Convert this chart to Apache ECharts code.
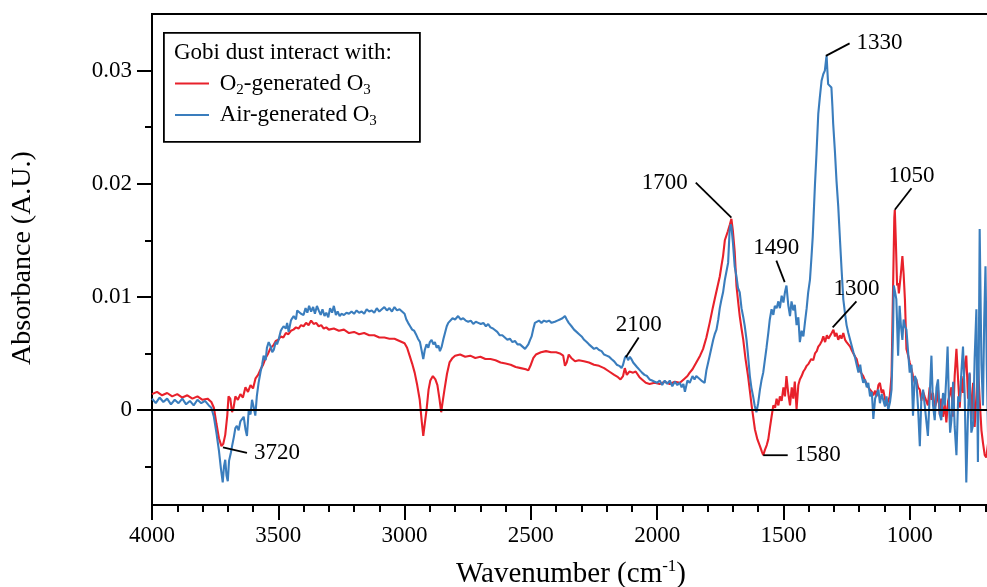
<!DOCTYPE html>
<html>
<head>
<meta charset="utf-8">
<script src="https://cdn.jsdelivr.net/npm/echarts@6/dist/echarts.min.js"></script>
<style>
html,body{margin:0;padding:0;background:#fff;}
#chart{width:987px;height:587px;}
</style>
</head>
<body>
<div id="chart"></div>
<script>
// ---- data (wavenumber cm-1, absorbance A.U.) ----
const seriesNames = ['O2-generated O3', 'Air-generated O3'];
const xTickValues = [1000, 1500, 2000, 2500, 3000, 3500, 4000];
const yMajorTicks = [0, 0.01, 0.02, 0.03];
const yMinorTicks = [-0.005, 0.005, 0.015, 0.025];

const o2Spectrum = [
[4000,0.0014],[3980,0.0016],[3960,0.0013],[3940,0.0015],[3920,0.0012],[3900,0.0014],[3880,0.0011],[3860,0.0013],
[3840,0.0010],[3820,0.0012],[3800,0.0009],[3780,0.0010],[3765,0.0007],[3755,0.0002],[3745,-0.0012],[3735,-0.0025],
[3725,-0.0032],[3718,-0.0030],[3710,-0.0022],[3702,-0.0005],[3697,0.0012],[3690,0.0010],[3683,-0.0002],[3677,0.0002],
[3670,0.0012],[3660,0.0009],[3650,0.0014],[3640,0.0011],[3630,0.0020],[3620,0.0016],[3610,0.0022],[3600,0.0019],
[3590,0.0028],[3580,0.0031],[3570,0.0036],[3560,0.0040],[3550,0.0046],[3540,0.0050],[3530,0.0055],[3520,0.0057],
[3510,0.0061],[3500,0.0062],[3490,0.0065],[3480,0.0064],[3470,0.0068],[3460,0.0067],[3450,0.0070],[3440,0.0071],
[3430,0.0073],[3420,0.0072],[3410,0.0075],[3400,0.0074],[3390,0.0077],[3380,0.0075],[3370,0.0079],[3360,0.0076],
[3350,0.0077],[3340,0.0074],[3330,0.0075],[3320,0.0072],[3310,0.0073],[3300,0.0071],[3280,0.0072],[3260,0.0070],
[3240,0.0071],[3220,0.0068],[3200,0.0069],[3180,0.0067],[3160,0.0068],[3140,0.0066],[3120,0.0066],[3100,0.0064],
[3080,0.0064],[3060,0.0063],[3040,0.0063],[3020,0.0061],[3000,0.0059],[2990,0.0055],[2980,0.0048],[2970,0.0041],
[2960,0.0033],[2950,0.0022],[2940,0.0009],[2932,-0.0010],[2926,-0.0023],[2920,-0.0012],[2913,0.0000],[2905,0.0018],
[2898,0.0026],[2888,0.0030],[2878,0.0027],[2870,0.0022],[2862,0.0010],[2855,-0.0002],[2850,0.0006],[2842,0.0018],
[2832,0.0032],[2822,0.0042],[2810,0.0046],[2800,0.0048],[2780,0.0049],[2760,0.0047],[2740,0.0048],[2720,0.0046],
[2700,0.0047],[2680,0.0045],[2660,0.0045],[2640,0.0044],[2620,0.0042],[2600,0.0041],[2580,0.0040],[2560,0.0038],
[2540,0.0037],[2520,0.0036],[2510,0.0035],[2500,0.0040],[2490,0.0046],[2480,0.0049],[2460,0.0051],[2440,0.0052],
[2420,0.0051],[2400,0.0051],[2385,0.0050],[2372,0.0048],[2365,0.0039],[2358,0.0042],[2350,0.0049],[2340,0.0046],
[2325,0.0043],[2310,0.0044],[2290,0.0043],[2270,0.0042],[2250,0.0040],[2230,0.0039],[2210,0.0037],[2190,0.0034],
[2170,0.0031],[2155,0.0029],[2145,0.0027],[2135,0.0030],[2128,0.0037],[2120,0.0031],[2110,0.0034],[2095,0.0033],
[2085,0.0034],[2070,0.0029],[2060,0.0027],[2045,0.0024],[2030,0.0023],[2010,0.0024],[1990,0.0023],[1970,0.0025],
[1950,0.0023],[1930,0.0025],[1910,0.0024],[1895,0.0027],[1880,0.0030],[1871,0.0033],[1860,0.0036],[1845,0.0042],
[1830,0.0048],[1818,0.0054],[1805,0.0064],[1792,0.0077],[1780,0.0090],[1772,0.0098],[1762,0.0108],[1752,0.0118],
[1745,0.0128],[1739,0.0136],[1732,0.0150],[1720,0.0158],[1712,0.0164],[1706,0.0169],[1700,0.0158],[1693,0.0140],
[1686,0.0110],[1679,0.0095],[1673,0.0083],[1666,0.0072],[1659,0.0062],[1650,0.0045],[1640,0.0030],[1633,0.0017],
[1626,0.0004],[1613,-0.0017],[1603,-0.0026],[1593,-0.0032],[1585,-0.0037],[1580,-0.0040],[1573,-0.0035],[1566,-0.0031],
[1560,-0.0026],[1553,-0.0015],[1547,-0.0006],[1540,0.0004],[1533,0.0002],[1527,0.0010],[1520,0.0004],[1514,0.0012],
[1507,0.0008],[1500,0.0020],[1494,0.0012],[1488,0.0030],[1481,0.0015],[1474,0.0004],[1467,0.0020],[1461,0.0010],
[1455,0.0025],[1448,0.0001],[1441,0.0022],[1435,0.0027],[1428,0.0030],[1421,0.0034],[1415,0.0036],[1408,0.0039],
[1400,0.0041],[1390,0.0045],[1382,0.0044],[1375,0.0050],[1368,0.0052],[1362,0.0056],[1355,0.0058],[1348,0.0061],
[1342,0.0065],[1335,0.0060],[1328,0.0066],[1322,0.0063],[1316,0.0062],[1309,0.0068],[1302,0.0071],[1296,0.0065],
[1290,0.0068],[1283,0.0062],[1276,0.0066],[1270,0.0063],[1263,0.0068],[1256,0.0062],[1250,0.0060],[1243,0.0058],
[1236,0.0056],[1230,0.0053],[1223,0.0050],[1216,0.0047],[1210,0.0045],[1203,0.0038],[1196,0.0034],[1190,0.0032],
[1184,0.0030],[1177,0.0026],[1170,0.0025],[1164,0.0020],[1157,0.0018],[1150,0.0016],[1144,0.0013],[1137,0.0017],
[1131,0.0012],[1124,0.0022],[1118,0.0024],[1111,0.0015],[1105,0.0018],[1098,0.0010],[1092,0.0004],[1085,0.0008],
[1079,0.0012],[1072,0.0030],[1066,0.0107],[1061,0.0170],[1059,0.0177],[1055,0.0150],[1050,0.0110],[1046,0.0112],
[1043,0.0103],[1036,0.0118],[1029,0.0136],[1024,0.0120],[1019,0.0098],[1013,0.0054],[1006,0.0048],[1000,0.0042],
[993,0.0036],[987,0.0030],[980,0.0024],[974,0.0027],[967,0.0020],[960,0.0018],[954,0.0008],[947,0.0016],
[941,0.0012],[934,0.0012],[928,0.0004],[921,0.0020],[914,0.0009],[908,0.0015],[901,0.0002],[894,0.0007],
[888,0.0018],[881,-0.0004],[875,0.0010],[868,-0.0006],[861,0.0006],[855,-0.0011],[848,0.0008],[841,0.0014],
[835,0.0020],[828,-0.0006],[822,0.0030],[815,0.0054],[808,0.0025],[802,0.0002],[795,0.0030],[789,0.0015],
[782,0.0040],[776,0.0048],[769,0.0010],[763,0.0032],[756,-0.0008],[749,0.0024],[743,-0.0015],[736,0.0012],
[730,0.0040],[723,0.0009],[716,-0.0018],[710,-0.0029],[703,-0.0040],[697,-0.0042],[690,-0.0030]
];

const airSpectrum = [
[4000,0.0010],[3985,0.0006],[3970,0.0011],[3955,0.0007],[3940,0.0010],[3925,0.0005],[3910,0.0009],[3895,0.0006],
[3880,0.0010],[3865,0.0005],[3850,0.0008],[3835,0.0004],[3820,0.0009],[3805,0.0006],[3790,0.0008],[3775,0.0004],
[3765,0.0002],[3755,-0.0006],[3745,-0.0020],[3735,-0.0036],[3727,-0.0052],[3720,-0.0064],[3715,-0.0050],[3710,-0.0044],
[3705,-0.0058],[3700,-0.0063],[3695,-0.0045],[3688,-0.0038],[3683,-0.0032],[3676,-0.0024],[3670,-0.0016],[3664,-0.0014],
[3657,-0.0018],[3650,-0.0010],[3644,-0.0011],[3637,-0.0006],[3630,-0.0017],[3624,-0.0023],[3617,0.0000],[3610,-0.0004],
[3604,0.0009],[3597,0.0002],[3591,-0.0005],[3585,0.0012],[3578,0.0024],[3570,0.0034],[3564,0.0040],[3558,0.0048],
[3550,0.0044],[3545,0.0055],[3538,0.0060],[3530,0.0056],[3524,0.0051],[3518,0.0053],[3510,0.0060],[3505,0.0058],
[3499,0.0062],[3490,0.0070],[3485,0.0072],[3479,0.0074],[3470,0.0072],[3465,0.0077],[3459,0.0069],[3450,0.0079],
[3445,0.0081],[3439,0.0083],[3430,0.0080],[3425,0.0088],[3419,0.0089],[3410,0.0085],[3400,0.0084],[3392,0.0090],
[3385,0.0086],[3378,0.0092],[3370,0.0087],[3362,0.0091],[3355,0.0085],[3347,0.0092],[3340,0.0088],[3332,0.0084],
[3325,0.0089],[3317,0.0083],[3310,0.0086],[3302,0.0082],[3295,0.0090],[3287,0.0086],[3280,0.0092],[3272,0.0084],
[3265,0.0087],[3257,0.0083],[3250,0.0085],[3240,0.0084],[3230,0.0086],[3220,0.0085],[3210,0.0087],[3200,0.0085],
[3190,0.0088],[3180,0.0086],[3170,0.0087],[3160,0.0085],[3150,0.0089],[3140,0.0087],[3130,0.0088],[3120,0.0086],
[3110,0.0090],[3100,0.0087],[3090,0.0089],[3080,0.0091],[3070,0.0088],[3060,0.0090],[3050,0.0087],[3040,0.0091],
[3030,0.0088],[3020,0.0089],[3010,0.0087],[3000,0.0085],[2993,0.0080],[2986,0.0077],[2978,0.0074],[2970,0.0071],
[2962,0.0070],[2955,0.0067],[2947,0.0063],[2939,0.0060],[2932,0.0052],[2926,0.0045],[2920,0.0053],[2913,0.0058],
[2906,0.0055],[2900,0.0060],[2893,0.0062],[2886,0.0058],[2880,0.0060],[2873,0.0055],[2866,0.0057],[2860,0.0052],
[2853,0.0056],[2846,0.0063],[2840,0.0068],[2833,0.0074],[2827,0.0077],[2821,0.0078],[2810,0.0081],[2800,0.0080],
[2788,0.0083],[2778,0.0080],[2768,0.0081],[2758,0.0079],[2748,0.0078],[2738,0.0079],[2728,0.0076],[2718,0.0078],
[2708,0.0077],[2698,0.0076],[2688,0.0077],[2678,0.0074],[2669,0.0076],[2660,0.0073],[2650,0.0072],[2643,0.0071],
[2633,0.0069],[2623,0.0066],[2613,0.0066],[2603,0.0064],[2593,0.0062],[2583,0.0063],[2573,0.0060],[2563,0.0061],
[2553,0.0058],[2543,0.0058],[2533,0.0056],[2523,0.0054],[2517,0.0055],[2510,0.0058],[2503,0.0062],[2497,0.0065],
[2490,0.0072],[2484,0.0077],[2478,0.0078],[2468,0.0079],[2458,0.0077],[2448,0.0079],[2438,0.0078],[2428,0.0079],
[2418,0.0077],[2405,0.0078],[2395,0.0079],[2385,0.0080],[2375,0.0081],[2365,0.0083],[2358,0.0080],[2350,0.0077],
[2339,0.0074],[2329,0.0071],[2319,0.0069],[2309,0.0067],[2299,0.0065],[2289,0.0062],[2279,0.0060],[2270,0.0058],
[2260,0.0056],[2250,0.0054],[2240,0.0055],[2230,0.0053],[2220,0.0052],[2210,0.0049],[2200,0.0048],[2190,0.0047],
[2181,0.0045],[2170,0.0043],[2160,0.0040],[2150,0.0039],[2141,0.0037],[2135,0.0040],[2128,0.0046],[2122,0.0048],
[2115,0.0044],[2108,0.0047],[2102,0.0045],[2095,0.0042],[2088,0.0041],[2080,0.0038],[2075,0.0037],[2068,0.0035],
[2060,0.0033],[2050,0.0031],[2040,0.0030],[2030,0.0027],[2020,0.0026],[2010,0.0025],[2000,0.0024],[1990,0.0026],
[1980,0.0022],[1970,0.0026],[1960,0.0023],[1950,0.0026],[1940,0.0021],[1930,0.0025],[1920,0.0022],[1910,0.0024],
[1903,0.0020],[1896,0.0023],[1890,0.0016],[1880,0.0026],[1871,0.0024],[1860,0.0030],[1852,0.0027],[1845,0.0030],
[1835,0.0028],[1825,0.0026],[1818,0.0025],[1812,0.0024],[1805,0.0035],[1798,0.0042],[1792,0.0048],[1785,0.0055],
[1778,0.0062],[1772,0.0067],[1765,0.0071],[1758,0.0080],[1752,0.0090],[1746,0.0097],[1739,0.0104],[1732,0.0115],
[1726,0.0122],[1719,0.0130],[1713,0.0159],[1709,0.0164],[1706,0.0162],[1700,0.0148],[1693,0.0127],[1686,0.0118],
[1680,0.0108],[1673,0.0104],[1666,0.0090],[1659,0.0082],[1653,0.0074],[1646,0.0062],[1640,0.0048],[1633,0.0030],
[1627,0.0020],[1620,0.0012],[1614,0.0004],[1607,-0.0002],[1600,0.0006],[1593,0.0018],[1587,0.0026],[1580,0.0033],
[1573,0.0045],[1567,0.0055],[1560,0.0068],[1554,0.0080],[1547,0.0089],[1540,0.0084],[1534,0.0092],[1527,0.0090],
[1520,0.0096],[1514,0.0090],[1507,0.0101],[1500,0.0095],[1494,0.0104],[1488,0.0110],[1481,0.0093],[1474,0.0083],
[1468,0.0096],[1461,0.0088],[1455,0.0093],[1448,0.0075],[1441,0.0082],[1435,0.0060],[1428,0.0070],[1421,0.0065],
[1415,0.0077],[1408,0.0090],[1402,0.0104],[1395,0.0115],[1389,0.0135],[1384,0.0153],[1380,0.0174],[1375,0.0200],
[1369,0.0227],[1362,0.0262],[1356,0.0276],[1349,0.0291],[1342,0.0297],[1336,0.0300],[1331,0.0310],[1329,0.0313],
[1326,0.0300],[1323,0.0288],[1316,0.0287],[1310,0.0285],[1306,0.0268],[1303,0.0253],[1296,0.0228],[1290,0.0203],
[1283,0.0180],[1276,0.0150],[1270,0.0125],[1263,0.0098],[1256,0.0085],[1250,0.0075],[1243,0.0068],[1236,0.0062],
[1230,0.0057],[1223,0.0051],[1216,0.0046],[1210,0.0040],[1203,0.0033],[1196,0.0040],[1190,0.0030],[1184,0.0024],
[1177,0.0027],[1170,0.0020],[1164,0.0024],[1157,0.0012],[1150,0.0016],[1144,-0.0008],[1137,0.0010],[1131,0.0010],
[1124,0.0018],[1118,0.0006],[1111,0.0014],[1105,0.0009],[1098,0.0003],[1092,0.0012],[1085,0.0000],[1078,0.0007],
[1072,0.0018],[1066,0.0070],[1063,0.0110],[1058,0.0104],[1053,0.0098],[1046,0.0048],[1040,0.0092],[1035,0.0075],
[1029,0.0062],[1024,0.0080],[1019,0.0074],[1013,0.0071],[1006,0.0050],[1000,0.0033],[993,0.0040],[987,-0.0005],
[980,0.0030],[974,0.0027],[967,0.0002],[960,-0.0032],[954,0.0010],[947,0.0018],[941,0.0018],[934,-0.0010],
[928,-0.0023],[921,0.0012],[914,0.0048],[908,0.0005],[901,-0.0009],[894,0.0020],[888,0.0027],[881,-0.0004],
[875,-0.0009],[868,0.0015],[861,0.0004],[855,0.0030],[850,0.0056],[845,0.0010],[840,-0.0020],[835,-0.0009],
[828,0.0025],[822,-0.0015],[815,-0.0040],[808,0.0012],[802,0.0007],[795,0.0035],[789,0.0056],[782,0.0010],
[776,-0.0064],[770,-0.0010],[763,0.0033],[756,-0.0020],[749,-0.0013],[743,0.0045],[736,0.0089],[730,-0.0046],
[726,0.0060],[723,0.0160],[716,0.0040],[710,0.0004],[705,0.0080],[700,0.0127],[695,0.0040],[690,-0.0020]
];

// peak annotations: label, line start (on spectrum), line end, side where text sits
const annotationLabels = ['3720', '1580', '2100', '1700', '1490', '1300', '1330', '1050'];
const annotationFrom = [[3719,-0.0033],[1580,-0.0040],[2124,0.00465],[1706,0.0170],[1495,0.0113],[1305,0.0073],[1332,0.0313],[1059,0.0177]];
const annotationTo   = [[3624,-0.0038],[1483,-0.0040],[2073,0.0064],[1847,0.0201],[1528,0.0132],[1211,0.0096],[1238,0.0324],[993,0.0196]];
const annotationSide = ['right', 'right', 'top', 'left', 'top', 'top', 'right', 'top'];

// ---- chart ----
const FONT = 'Liberation Serif, Times New Roman, serif';
const RED = '#e8212b';
const BLUE = '#3a7dbd';
const chart = echarts.init(document.getElementById('chart'), null, {renderer: 'canvas'});

const annotationRows = annotationLabels.map((l, i) => [annotationFrom[i][0], annotationFrom[i][1], annotationTo[i][0], annotationTo[i][1]]);

const richText = {
  n: {fontFamily: FONT, fontSize: 23, color: '#000', lineHeight: 28},
  s: {fontFamily: FONT, fontSize: 15, color: '#000', lineHeight: 15, verticalAlign: 'bottom'}
};

const option = {
  animation: false,
  backgroundColor: '#fff',
  grid: {left: 152, top: 14, bottom: 82, width: 884, show: true, borderColor: '#000', borderWidth: 2,
    containLabel: false, outerBoundsMode: 'none'},
  legend: {
    orient: 'vertical', left: 175, top: 72, itemGap: 6, padding: 0,
    itemWidth: 34, itemHeight: 2, icon: 'rect',
    data: seriesNames,
    formatter: function (name) {
      if (name === seriesNames[0]) return ' {n|O}{s|2}{n|-generated O}{s|3}';
      return ' {n|Air-generated O}{s|3}';
    },
    textStyle: {fontFamily: FONT, fontSize: 23, color: '#000', rich: richText}
  },
  xAxis: {
    type: 'value', inverse: true, min: 500, max: 4000, interval: 500,
    axisLine: {onZero: false, lineStyle: {color: '#000', width: 2}},
    axisTick: {show: true, length: 15, lineStyle: {color: '#000', width: 2}},
    minorTick: {show: true, splitNumber: 5, length: 7, lineStyle: {color: '#000', width: 2}},
    splitLine: {show: false},
    axisLabel: {margin: 19, fontFamily: FONT, fontSize: 23, color: '#000',
      formatter: v => xTickValues.indexOf(v) >= 0 ? String(v) : ''}
  },
  yAxis: [{
    type: 'value', min: -0.0084, max: 0.035, position: 'left',
    axisLine: {show: true, onZero: false, lineStyle: {color: '#000', width: 2}},
    axisTick: {show: true, length: 15, customValues: yMajorTicks, lineStyle: {color: '#000', width: 2}},
    splitLine: {show: false},
    axisLabel: {margin: 20, fontFamily: FONT, fontSize: 23, color: '#000', customValues: yMajorTicks,
      formatter: v => Math.abs(v) < 1e-9 ? '0' : v.toFixed(2)}
  }, {
    type: 'value', min: -0.0084, max: 0.035, position: 'left', offset: 0,
    axisLine: {show: false, onZero: false},
    axisTick: {show: true, length: 7, customValues: yMinorTicks, lineStyle: {color: '#000', width: 2}},
    axisLabel: {show: false},
    splitLine: {show: false}
  }],
  series: [{
    name: seriesNames[0], type: 'line', data: o2Spectrum, showSymbol: false, symbol: 'none',
    color: RED, lineStyle: {color: RED, width: 2.1}, yAxisIndex: 0, z: 2
  }, {
    name: seriesNames[1], type: 'line', data: airSpectrum, showSymbol: false, symbol: 'none',
    color: BLUE, lineStyle: {color: BLUE, width: 2.1}, yAxisIndex: 0, z: 3,
    markLine: {silent: true, symbol: 'none', label: {show: false},
      lineStyle: {color: '#000', width: 2, type: 'solid'}, data: [{yAxis: 0}]}
  }, {
    type: 'custom', yAxisIndex: 0, z: 5, silent: true,
    encode: {x: [0, 2], y: [1, 3]},
    data: annotationRows,
    renderItem: function (params, api) {
      const i = params.dataIndex;
      const p1 = api.coord([api.value(0), api.value(1)]);
      const p2 = api.coord([api.value(2), api.value(3)]);
      const side = annotationSide[i];
      let tx = p2[0], ty = p2[1], align = 'center', va = 'middle';
      if (side === 'right') { tx = p2[0] + 7; align = 'left'; }
      else if (side === 'left') { tx = p2[0] - 8; align = 'right'; }
      else { ty = p2[1] - 1; va = 'bottom'; }
      return {
        type: 'group',
        children: [
          {type: 'line', shape: {x1: p1[0], y1: p1[1], x2: p2[0], y2: p2[1]}, style: {stroke: '#000', lineWidth: 1.8}},
          {type: 'text', x: tx, y: ty, style: {text: annotationLabels[i], fill: '#000', fontFamily: FONT, fontSize: 23, align: align, verticalAlign: va}}
        ]
      };
    }
  }],
  graphic: [
    {type: 'rect', left: 163, top: 32, shape: {width: 256, height: 109}, style: {fill: 'rgba(0,0,0,0)', stroke: '#000', lineWidth: 1.8}, z: 10},
    {type: 'text', x: 174, y: 53, style: {text: 'Gobi dust interact with:', fill: '#000', fontFamily: FONT, fontSize: 23, align: 'left', verticalAlign: 'middle'}, z: 10},
    {type: 'text', x: 571, y: 574, style: {
      text: '{t|Wavenumber (cm}{p|-1}{t|)}', align: 'center', verticalAlign: 'middle',
      rich: {t: {fontFamily: FONT, fontSize: 29, color: '#000', lineHeight: 32}, p: {fontFamily: FONT, fontSize: 17, color: '#000', lineHeight: 17, verticalAlign: 'top'}}
    }, z: 10},
    {type: 'text', x: 23, y: 258, rotation: Math.PI / 2, style: {
      text: 'Absorbance (A.U.)', fill: '#000', fontFamily: FONT, fontSize: 28, align: 'center', verticalAlign: 'middle'
    }, z: 10}
  ]
};
chart.setOption(option);
</script>
</body>
</html>
